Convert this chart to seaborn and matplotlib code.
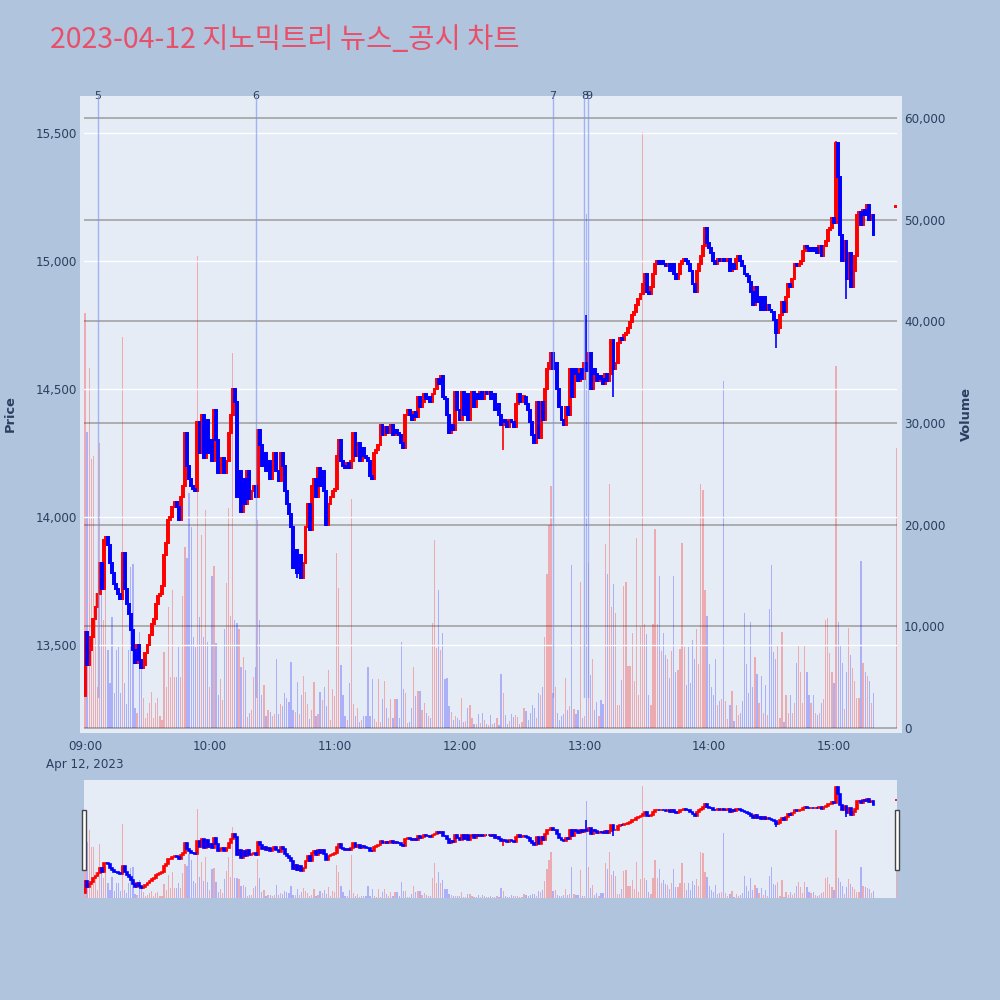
import matplotlib
matplotlib.use("Agg")
import matplotlib.pyplot as plt
import matplotlib.ticker as ticker
import matplotlib.transforms as mtransforms
from matplotlib.patches import Rectangle
import seaborn as sns
import numpy as np

TITLE = "2023-04-12 지노믹트리 뉴스_공시 차트"

# 1-minute closes, 09:00 .. 15:19 (one row = 10 minutes)
FIRST_OPEN = 13300
close = [
    13550, 13420, 13480, 13530, 13600, 13650, 13700, 13820, 13720, 13910,
    13920, 13890, 13820, 13780, 13740, 13720, 13700, 13680, 13860, 13720,
    13660, 13620, 13560, 13480, 13430, 13500, 13440, 13410, 13420, 13470,
    13500, 13540, 13580, 13600, 13660, 13690, 13700, 13730, 13850, 13900,
    13990, 14000, 14040, 14060, 14040, 13990, 14080, 14120, 14330, 14200,
    14150, 14120, 14110, 14100, 14370, 14250, 14400, 14230, 14380, 14250,
    14300, 14220, 14420, 14300, 14170, 14200, 14230, 14170, 14220, 14330,
    14400, 14500, 14450, 14080, 14180, 14020, 14150, 14050, 14180, 14070,
    14100, 14120, 14080, 14340, 14280, 14200, 14250, 14180, 14220, 14150,
    14200, 14250, 14180, 14140, 14250, 14200, 14100, 14050, 14010, 13960,
    13800, 13870, 13780, 13850, 13760, 13820, 13960, 14050, 13950, 14120,
    14150, 14080, 14190, 14120, 14180, 14100, 13970, 14050, 14080, 14100,
    14110, 14240, 14300, 14220, 14200, 14190, 14210, 14190, 14220, 14330,
    14240, 14290, 14220, 14270, 14240, 14230, 14220, 14160, 14150, 14250,
    14260, 14280, 14360, 14320, 14350, 14330, 14340, 14360, 14320, 14340,
    14330, 14320, 14290, 14270, 14400, 14420, 14400, 14380, 14410, 14390,
    14470, 14430, 14450, 14480, 14460, 14470, 14450, 14480, 14500, 14540,
    14520, 14550, 14470, 14460, 14400, 14330, 14360, 14340, 14490, 14420,
    14380, 14490, 14400, 14480, 14380, 14470, 14490, 14430, 14480, 14460,
    14490, 14460, 14490, 14480, 14490, 14460, 14480, 14420, 14440, 14400,
    14360, 14380, 14370, 14350, 14380, 14370, 14350, 14440, 14480, 14450,
    14470, 14470, 14440, 14420, 14370, 14320, 14290, 14450, 14310, 14450,
    14380, 14500, 14580, 14600, 14640, 14580, 14600, 14500, 14430, 14380,
    14360, 14430, 14400, 14580, 14470, 14580, 14560, 14530, 14580, 14540,
    14600, 14570, 14640, 14500, 14580, 14560, 14530, 14550, 14540, 14520,
    14560, 14530, 14560, 14690, 14580, 14600, 14680, 14700, 14690, 14710,
    14720, 14740, 14760, 14790, 14800, 14830, 14850, 14870, 14910, 14950,
    14880, 14870, 14900, 14950, 14990, 15000, 14990, 15000, 14990, 14980,
    14990, 14960, 14990, 14950, 14930, 14950, 14990, 15000, 15010, 15000,
    14990, 14960, 14910, 14880, 14960, 14990, 15020, 15060, 15130, 15070,
    15050, 15030, 15000, 14990, 15010, 15000, 15010, 15000, 15000, 15010,
    14960, 14990, 14970, 15010, 15020, 15000, 14980, 14950, 14940, 14920,
    14880, 14830, 14900, 14840, 14860, 14810, 14860, 14810, 14830, 14810,
    14800, 14770, 14720, 14740, 14790, 14840, 14800, 14860, 14910, 14900,
    14930, 14990, 14980, 14990, 15000, 15040, 15060, 15050, 15040, 15050,
    15040, 15050, 15030, 15060, 15020, 15060, 15080, 15120, 15130, 15170,
    15150, 15460, 15330, 15100, 15000, 15080, 14930, 15030, 14900, 14960,
    15020, 15180, 15190, 15140, 15200, 15180, 15220, 15160, 15180, 15100,
]

# 1-minute volume, thousands of shares
volume_k = [
    40.8, 29.1, 35.4, 26.5, 26.8, 13.3, 4.0, 28.0, 13.6, 10.6,
    16.5, 7.7, 4.4, 10.9, 3.4, 7.7, 8.0, 3.4, 38.5, 4.4,
    2.4, 7.7, 15.8, 16.1, 2.0, 1.5, 9.4, 6.0, 3.0, 1.0,
    1.5, 2.5, 3.5, 1.0, 2.5, 3.0, 1.2, 0.8, 7.5, 4.0,
    11.9, 5.0, 13.6, 5.0, 5.0, 8.0, 5.0, 13.0, 17.8, 16.7,
    23.1, 19.8, 9.0, 8.0, 46.4, 10.9, 19.0, 9.0, 21.4, 8.5,
    4.0, 15.0, 15.9, 8.4, 3.2, 4.8, 2.8, 9.7, 14.3, 21.6,
    11.0, 36.9, 10.6, 10.3, 9.7, 6.0, 7.0, 5.7, 1.1, 1.5,
    1.8, 5.0, 6.0, 20.5, 10.6, 3.2, 4.2, 1.2, 1.8, 1.6,
    1.2, 1.4, 6.8, 1.4, 2.4, 2.2, 3.4, 3.0, 2.6, 6.5,
    1.8, 1.6, 4.5, 1.4, 3.2, 5.1, 3.5, 2.4, 0.9, 1.8,
    4.5, 1.2, 1.4, 3.5, 2.8, 4.0, 2.2, 5.7, 0.8, 3.8,
    3.1, 17.2, 13.8, 6.2, 3.2, 1.2, 0.8, 4.4, 22.5, 2.4,
    1.2, 2.0, 0.6, 0.8, 1.2, 1.2, 6.0, 1.2, 4.8, 0.9,
    0.6, 4.8, 0.6, 2.9, 4.6, 2.0, 1.0, 2.9, 1.0, 2.9,
    2.9, 1.0, 8.5, 3.8, 3.4, 0.5, 0.6, 2.0, 6.0, 3.1,
    3.6, 3.6, 1.8, 2.5, 1.5, 1.2, 1.0, 10.3, 18.5, 7.9,
    13.6, 7.7, 9.3, 4.8, 4.9, 2.2, 1.6, 0.8, 1.2, 1.0,
    0.8, 3.0, 0.6, 0.7, 2.0, 2.3, 1.0, 0.4, 0.4, 1.4,
    0.5, 1.5, 0.8, 0.4, 0.3, 1.3, 0.4, 0.5, 1.0, 0.3,
    5.3, 3.4, 1.3, 0.4, 0.7, 1.4, 1.1, 1.3, 1.1, 0.4,
    0.6, 2.0, 1.7, 0.8, 1.5, 2.3, 2.0, 1.0, 3.4, 3.2,
    4.0, 9.0, 15.1, 20.0, 23.8, 3.4, 4.0, 1.5, 0.8, 1.2,
    1.4, 4.9, 1.8, 2.2, 16.0, 1.9, 1.4, 1.8, 14.4, 1.0,
    1.2, 50.6, 16.2, 5.2, 6.8, 1.8, 2.6, 1.2, 2.8, 2.4,
    18.1, 15.1, 24.0, 11.9, 14.2, 11.3, 2.3, 2.3, 4.7, 14.0,
    14.4, 6.1, 6.1, 9.3, 4.6, 18.7, 3.2, 9.9, 58.6, 10.2,
    9.2, 3.2, 2.3, 10.2, 19.6, 10.2, 15.0, 7.6, 9.3, 7.2,
    6.8, 4.9, 7.6, 15.0, 5.5, 5.7, 7.8, 18.2, 8.0, 4.2,
    8.0, 4.4, 8.7, 6.8, 9.7, 6.3, 24.0, 23.4, 13.6, 11.0,
    6.3, 4.0, 3.2, 6.8, 2.3, 2.7, 2.9, 34.1, 2.7, 0.9,
    2.3, 3.6, 0.7, 2.3, 1.3, 1.5, 2.7, 11.3, 6.3, 3.4,
    10.4, 4.0, 7.0, 5.3, 2.5, 5.1, 1.5, 4.2, 1.3, 11.7,
    16.0, 7.5, 6.8, 8.1, 1.0, 9.4, 0.6, 3.2, 1.5, 3.2,
    1.5, 2.5, 6.4, 8.1, 5.5, 2.5, 8.1, 5.5, 3.2, 2.5,
    3.2, 1.5, 1.3, 1.5, 2.5, 2.9, 10.6, 10.8, 7.4, 5.5,
    4.4, 35.6, 10.4, 8.1, 6.4, 1.9, 5.5, 9.8, 7.2, 5.9,
    4.6, 3.0, 3.0, 16.4, 6.4, 5.5, 5.1, 4.6, 2.5, 3.4,
]

# wicks that stick out beyond the bodies (minute -> price)
wick_high = {241: 14790, 361: 15470}
wick_low = {102: 13760, 201: 14260, 254: 14470, 332: 14660, 366: 14850}

# 15:30 closing auction
auction_minute = 390
auction_price = 15210
auction_volume_k = 27.5

# news / disclosure markers (minutes after 09:00)
news_minutes = [6, 82, 225, 240, 242]
news_labels = ["5", "6", "7", "8", "9"]

hour_ticks = [0, 60, 120, 180, 240, 300, 360]
hour_labels = ["09:00\nApr 12, 2023", "10:00", "11:00", "12:00", "13:00", "14:00", "15:00"]
price_ticks = [13500, 14000, 14500, 15000, 15500]
volume_ticks = [0, 10000, 20000, 30000, 40000, 50000, 60000]

# ---------------------------------------------------------------------------
# Style
# ---------------------------------------------------------------------------
PAPER = "#B0C4DE"
PLOT_BG = "#E5ECF6"
TEXT = "#2a3f5f"

sns.set_theme(style="white", rc={
    "figure.facecolor": PAPER,
    "axes.facecolor": PLOT_BG,
    "axes.edgecolor": PLOT_BG,
})
plt.rcParams["font.family"] = ["DejaVu Sans", "Noto Sans CJK KR"]

# ---------------------------------------------------------------------------
# Build OHLC
# ---------------------------------------------------------------------------
x = np.append(np.arange(len(close)), auction_minute).astype(float)
c = np.array(close + [auction_price], dtype=float)
o = np.array([FIRST_OPEN] + close[:-1] + [auction_price], dtype=float)
h = np.maximum(o, c)
l = np.minimum(o, c)
for m, v in wick_high.items():
    h[m] = v
for m, v in wick_low.items():
    l[m] = v
vol = np.array(volume_k + [auction_volume_k]) * 1000
up = c >= o


def draw_volume(ax, alpha=0.28):
    ax.bar(x[up], vol[up], width=0.6, color="red", alpha=alpha, linewidth=0, zorder=2)
    ax.bar(x[~up], vol[~up], width=0.6, color="blue", alpha=alpha - 0.03, linewidth=0, zorder=2)


def draw_candles(ax, lw=1.4):
    body_b = np.minimum(o, c)
    body_h = np.maximum(np.abs(c - o), 4)
    for mask, col in [(up, "red"), (~up, "blue")]:
        ax.vlines(x[mask], l[mask], h[mask], color=col, lw=1.2, zorder=3)
        ax.bar(x[mask], body_h[mask], bottom=body_b[mask], width=0.9,
               color=col, edgecolor=col, linewidth=lw, zorder=3)


fig = plt.figure(figsize=(10, 10), dpi=100)

# plot background (slightly wider than the axes, as in the original)
fig.patches.append(Rectangle((0.080, 0.267), 0.822, 0.637, transform=fig.transFigure,
                             facecolor=PLOT_BG, edgecolor="none", zorder=-1))

# main chart: volume on the base axes (right), price on a twin (left)
ax_vol = fig.add_axes([0.084, 0.267, 0.813, 0.637])
ax_price = ax_vol.twinx()
ax_price.patch.set_visible(False)

draw_volume(ax_vol)
draw_candles(ax_price)

xlim = (-0.5, 390.3)
ax_vol.set_xlim(*xlim)
ax_vol.set_ylim(-490, 62160)
ax_price.set_ylim(13156, 15645)

ax_vol.yaxis.tick_right()
ax_vol.set_yticks(volume_ticks)
ax_vol.yaxis.set_major_formatter(ticker.StrMethodFormatter("{x:,.0f}"))
ax_vol.grid(axis="y", color="#a2a2a2", lw=1.2)
ax_vol.grid(axis="x", visible=False)

ax_price.yaxis.tick_left()
ax_price.set_yticks(price_ticks)
ax_price.yaxis.set_major_formatter(ticker.StrMethodFormatter("{x:,.0f}"))
ax_price.grid(axis="y", color="white", lw=1.0, zorder=0)
ax_price.grid(axis="x", visible=False)

ax_vol.set_xticks(hour_ticks)
ax_vol.set_xticklabels(hour_labels, linespacing=1.5)

for a in (ax_vol, ax_price):
    a.tick_params(length=0, labelsize=8.6, colors=TEXT, pad=5)
    for s in a.spines.values():
        s.set_visible(False)

# news markers
trans = mtransforms.blended_transform_factory(ax_price.transData, ax_price.transAxes)
for m, lab in zip(news_minutes, news_labels):
    ax_price.plot([m, m], [0.057, 1.0], transform=trans, color="#7d95ee",
                  alpha=0.65, lw=1.0, zorder=4)
    ax_price.text(m, 1.0, lab, transform=trans, ha="center", va="center",
                  fontsize=8, color=TEXT, clip_on=False)

# titles
fig.text(0.05, 0.96, TITLE, fontsize=20.5, color="#E8506A", va="center", ha="left",
         family=["Noto Sans CJK KR", "DejaVu Sans"])
fig.text(0.010, 0.586, "Price", rotation=90, fontsize=9.4, fontweight="bold",
         color=TEXT, ha="center", va="center")
fig.text(0.966, 0.586, "Volume", rotation=90, fontsize=9.4, fontweight="bold",
         color=TEXT, ha="center", va="center")

# range slider
ax_sv = fig.add_axes([0.084, 0.102, 0.813, 0.118])
ax_sp = ax_sv.twinx()
ax_sp.patch.set_visible(False)
draw_volume(ax_sv)
draw_candles(ax_sp, lw=1.2)
ax_sv.set_xlim(*xlim)
ax_sv.set_ylim(0, vol.max() * 1.05)
rng = h.max() - l.min()
ax_sp.set_ylim(l.min() - 0.047 * rng, h.max() + 0.066 * rng)
for a in (ax_sv, ax_sp):
    a.set_xticks([])
    a.set_yticks([])
    a.grid(False)
    for s in a.spines.values():
        s.set_visible(False)

for hx in (0.0815, 0.8945):
    fig.patches.append(Rectangle((hx, 0.130), 0.004, 0.060, transform=fig.transFigure,
                                 facecolor="white", edgecolor="#444444", lw=1.0, zorder=5))

fig.savefig("out.png", dpi=100, facecolor=fig.get_facecolor())
plt.close(fig)
